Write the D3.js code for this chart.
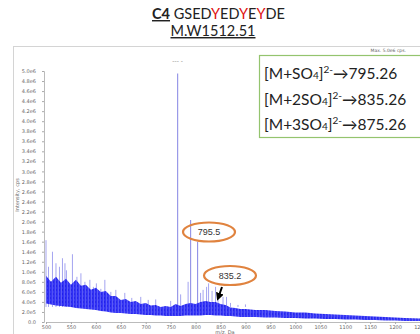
<!DOCTYPE html>
<html>
<head>
<meta charset="utf-8">
<script src="https://cdn.jsdelivr.net/npm/d3@7"></script>
<style>
body { margin: 0; background: #fff; }
svg { display: block; }
</style>
</head>
<body>
<script>
// noise band of the spectrum (intensity in 1e6 cps)
let bandMz = [500, 510, 520, 530, 540, 550, 560, 570, 580, 590, 600, 610, 620, 630, 640, 650, 660, 670, 680, 690,
	700, 710, 720, 730, 740, 750, 760, 770, 780, 790, 800, 810, 820, 830, 840, 850, 860, 870, 880, 890,
	900, 920, 940, 960, 980, 1000, 1020, 1040, 1060, 1080, 1100, 1120, 1140, 1160, 1180, 1200, 1220, 1250]
let bandLow = [0.37, 0.35, 0.33, 0.32, 0.31, 0.30, 0.28, 0.27, 0.26, 0.25, 0.24, 0.22, 0.21, 0.19, 0.18, 0.18, 0.17, 0.16, 0.16, 0.15,
	0.14, 0.14, 0.13, 0.13, 0.12, 0.12, 0.12, 0.12, 0.13, 0.13, 0.13, 0.13, 0.14, 0.14, 0.13, 0.13, 0.12, 0.12, 0.11, 0.10,
	0.10, 0.10, 0.09, 0.09, 0.08, 0.08, 0.07, 0.07, 0.06, 0.06, 0.05, 0.05, 0.04, 0.04, 0.03, 0.03, 0.02, 0.02]
let bandHigh = [0.92, 0.80, 0.90, 0.78, 0.86, 0.74, 0.84, 0.72, 0.74, 0.64, 0.68, 0.60, 0.62, 0.52, 0.52, 0.44, 0.46, 0.40, 0.42, 0.36,
	0.38, 0.33, 0.34, 0.30, 0.32, 0.30, 0.36, 0.32, 0.36, 0.38, 0.36, 0.40, 0.42, 0.40, 0.40, 0.36, 0.34, 0.29, 0.28, 0.26,
	0.26, 0.24, 0.24, 0.22, 0.21, 0.19, 0.19, 0.17, 0.16, 0.15, 0.14, 0.13, 0.12, 0.11, 0.10, 0.09, 0.08, 0.07]

// light spikes over the noise
let spikeMz = [500, 505, 513, 520, 527, 533, 538, 541, 553, 562, 570, 578, 588, 595, 601, 610, 618, 630, 640, 658, 672, 690, 705, 720,
	750, 770, 785, 810, 815, 822, 826, 833, 840, 845, 855, 862, 870, 885, 900, 930, 960]
let spikeVal = [1.63, 1.10, 1.40, 1.17, 1.10, 1.27, 1.17, 1.03, 1.35, 0.90, 0.97, 0.80, 0.84, 0.70, 0.77, 0.66, 0.84, 0.60, 0.64, 0.58, 0.48, 0.50, 0.44, 0.45,
	0.42, 0.55, 0.80, 0.58, 0.64, 0.70, 0.77, 0.62, 0.70, 0.50, 0.50, 0.50, 0.38, 0.34, 0.35, 0.30, 0.30]

// main peaks
let peakMz = [764, 790, 804]
let peakVal = [4.95, 2.03, 1.60]

let yTicks = d3.range(0, 5.01, 0.2)
let xTicks = d3.range(500, 1251, 50)

let titleSeq = ['G', 'S', 'E', 'D', 'Y', 'E', 'D', 'Y', 'E', 'Y', 'D', 'E']
let ionLines = [
	{ pre: '[M+SO', sub: '4', sup: '2-', mz: '795.26' },
	{ pre: '[M+2SO', sub: '4', sup: '2-', mz: '835.26' },
	{ pre: '[M+3SO', sub: '4', sup: '2-', mz: '875.26' },
]

let width = 420, height = 334
let svg = d3.select('body').append('svg')
	.attr('width', width)
	.attr('height', height)
let defs = svg.append('defs')

// stripe texture for the noise band
let pat = defs.append('pattern')
	.attr('id', 'noise').attr('patternUnits', 'userSpaceOnUse')
	.attr('width', 3).attr('height', 4)
pat.append('rect').attr('width', 3).attr('height', 4).attr('fill', '#2020f4')
pat.append('rect').attr('x', 1).attr('width', 1).attr('height', 4).attr('fill', '#4848f4')
pat.append('rect').attr('x', 2).attr('y', 1).attr('width', 1).attr('height', 2).attr('fill', '#1010e8')

let x = d3.scaleLinear().domain([500, 1250]).range([46, 420])
let y = d3.scaleLinear().domain([0, 5]).range([322, 71])

// frame
svg.append('rect')
	.attr('x', 13.5).attr('y', 46.5)
	.attr('width', 420).attr('height', 300)
	.attr('fill', 'none').attr('stroke', '#d4d4d4')

// title
let t1 = svg.append('text')
	.attr('x', 152).attr('y', 19)
	.attr('font-family', 'Lato, "Open Sans", sans-serif')
	.attr('font-size', 14.5)
	.attr('fill', '#222')
t1.append('tspan').attr('font-weight', 'bold').attr('text-decoration', 'underline').text('C4')
t1.append('tspan').text(' ')
titleSeq.forEach(c => {
	t1.append('tspan').attr('fill', c === 'Y' ? '#e01010' : '#222').text(c)
})
svg.append('text')
	.attr('x', 213).attr('y', 36)
	.attr('text-anchor', 'middle')
	.attr('font-family', 'Lato, "Open Sans", sans-serif')
	.attr('font-size', 14.5)
	.attr('fill', '#222')
	.attr('text-decoration', 'underline')
	.text('M.W1512.51')

// axes
let fmt = d => d === 0 ? '0.0' : d3.format('.1e')(d * 1e6).replace('+', '')
let gy = svg.append('g').attr('transform', 'translate(44,0)')
	.call(d3.axisLeft(y).tickValues(yTicks).tickSize(2).tickFormat(fmt))
gy.select('.domain').attr('stroke', '#bbb')
gy.selectAll('.tick line').attr('stroke', '#aaa')
gy.selectAll('.tick text').attr('x', -8).attr('fill', '#666')
	.attr('font-family', '"DejaVu Sans", sans-serif').attr('font-size', 5)

let gx = svg.append('g').attr('transform', 'translate(0,322)')
	.call(d3.axisBottom(x).tickValues(xTicks).tickSize(2).tickFormat(d3.format('d')))
gx.select('.domain').attr('stroke', '#bbb')
gx.selectAll('.tick line').attr('stroke', '#aaa')
gx.selectAll('.tick text').attr('y', 3).attr('fill', '#666')
	.attr('font-family', '"DejaVu Sans", sans-serif').attr('font-size', 5)

svg.append('text')
	.attr('transform', 'translate(19,195) rotate(-90)')
	.attr('text-anchor', 'middle')
	.attr('font-family', '"DejaVu Sans", sans-serif').attr('font-size', 5)
	.attr('fill', '#666')
	.text('Intensity, cps')
svg.append('text')
	.attr('x', 225).attr('y', 334)
	.attr('text-anchor', 'middle')
	.attr('font-family', '"DejaVu Sans", sans-serif').attr('font-size', 5)
	.attr('fill', '#666')
	.text('m/z, Da')
svg.append('text')
	.attr('x', 406).attr('y', 52)
	.attr('text-anchor', 'end')
	.attr('font-family', '"DejaVu Sans", sans-serif').attr('font-size', 4.5)
	.attr('fill', '#666')
	.text('Max. 5.0e6 cps.')

// spectrum
let band = bandMz.map((m, i) => ({ m: m, lo: bandLow[i], hi: bandHigh[i] }))
svg.append('g').selectAll('line')
	.data(spikeMz.map((m, i) => ({ m: m, v: spikeVal[i] })))
	.join('line')
	.attr('x1', d => x(d.m)).attr('x2', d => x(d.m))
	.attr('y1', y(0.3)).attr('y2', d => y(d.v))
	.attr('stroke', '#9a9aee').attr('stroke-width', 0.9)
svg.append('g').selectAll('line')
	.data(peakMz.map((m, i) => ({ m: m, v: peakVal[i] })))
	.join('line')
	.attr('x1', d => x(d.m)).attr('x2', d => x(d.m))
	.attr('y1', y(0.2)).attr('y2', d => y(d.v))
	.attr('stroke', '#9090e6').attr('stroke-width', 1.1)
svg.append('path')
	.datum(band)
	.attr('d', d3.area().x(d => x(d.m)).y0(d => y(d.lo)).y1(d => y(d.hi)))
	.attr('fill', 'url(#noise)').attr('opacity', 0.9)

svg.append('text')
	.attr('x', x(764)).attr('y', 63)
	.attr('text-anchor', 'middle')
	.attr('font-family', '"DejaVu Sans", sans-serif').attr('font-size', 6)
	.attr('fill', '#888')
	.text('--- -')

// annotation box
svg.append('rect')
	.attr('x', 259.5).attr('y', 55.5)
	.attr('width', 170).attr('height', 82)
	.attr('fill', '#fff').attr('stroke', '#94c46e').attr('stroke-width', 1.2)
ionLines.forEach((l, i) => {
	let t = svg.append('text')
		.attr('x', 264).attr('y', 79 + i * 25.5)
		.attr('font-family', 'Lato, "Open Sans", sans-serif')
		.attr('font-size', 15.5)
		.attr('fill', '#222')
	t.append('tspan').text(l.pre)
	t.append('tspan').attr('font-size', 10).text(l.sub)
	t.append('tspan').text(']')
	t.append('tspan').attr('font-size', 10).attr('dy', -6).text(l.sup)
	t.append('tspan').attr('dy', 6).text('\u2192' + l.mz)
})

// peak call-outs
let callouts = [{ cx: 209, cy: 232, label: '795.5' }, { cx: 230, cy: 275.5, label: '835.2' }]
callouts.forEach(c => {
	svg.append('ellipse')
		.attr('cx', c.cx).attr('cy', c.cy).attr('rx', 26).attr('ry', 9.5)
		.attr('fill', 'none').attr('stroke', '#e0833f').attr('stroke-width', 2.2)
	svg.append('text')
		.attr('x', c.cx).attr('y', c.cy + 3)
		.attr('text-anchor', 'middle')
		.attr('font-family', '"Liberation Sans", Arial, sans-serif').attr('font-size', 9)
		.attr('fill', '#333')
		.text(c.label)
})
defs.append('marker')
	.attr('id', 'ah').attr('viewBox', '0 0 10 10').attr('refX', 5).attr('refY', 5)
	.attr('markerWidth', 4).attr('markerHeight', 4).attr('orient', 'auto')
	.append('path').attr('d', 'M0,0L10,5L0,10z').attr('fill', '#000')
svg.append('line')
	.attr('x1', 222).attr('y1', 287).attr('x2', 218.5).attr('y2', 297)
	.attr('stroke', '#000').attr('stroke-width', 2)
	.attr('marker-end', 'url(#ah)')
</script>
</body>
</html>
